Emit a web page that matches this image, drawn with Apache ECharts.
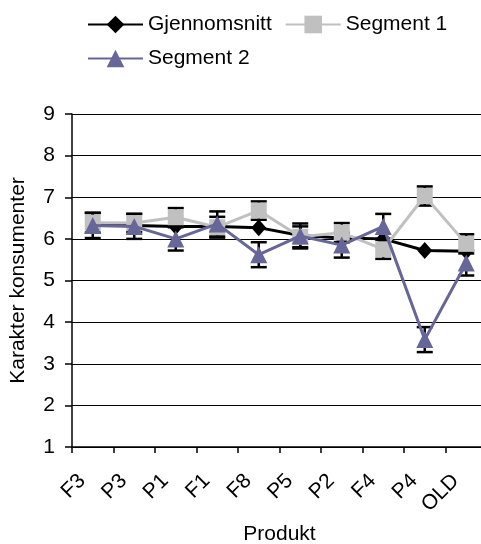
<!DOCTYPE html>
<html>
<head>
<meta charset="utf-8">
<script src="https://cdn.jsdelivr.net/npm/echarts@6/dist/echarts.min.js"></script>
<style>
  html, body { margin: 0; padding: 0; background: #fff; }
  #main { width: 481px; height: 544px; }
</style>
</head>
<body>
<div id="main"></div>
<script>
  var produkter = ['F3', 'P3', 'P1', 'F1', 'F8', 'P5', 'P2', 'F4', 'P4', 'OLD']
  var gjennomsnitt = [6.35, 6.32, 6.30, 6.30, 6.27, 6.08, 6.02, 6.00, 5.72, 5.70]
  var segment1 = [6.39, 6.38, 6.52, 6.28, 6.68, 6.05, 6.15, 5.75, 7.03, 5.88]
  var segment1Feil = [0.24, 0.22, 0.22, 0.25, 0.22, 0.25, 0.23, 0.23, 0.23, 0.23]
  var segment2 = [6.32, 6.30, 6.00, 6.36, 5.62, 6.07, 5.85, 6.30, 3.58, 5.42]
  var segment2Feil = [0.30, 0.30, 0.28, 0.30, 0.30, 0.30, 0.30, 0.30, 0.30, 0.30]
  var yTicks = [1, 2, 3, 4, 5, 6, 7, 8, 9]

  var font = 'Liberation Sans, Arial, sans-serif'

  // error bars, drawn with the axis scales
  function feilData(verdier, feil) {
    return verdier.map(function (v, i) { return [i, v, feil[i]] })
  }
  function tegnFeil(params, api) {
    var x = api.value(0), v = api.value(1), e = api.value(2)
    var topp = api.coord([x, v + e])
    var bunn = api.coord([x, v - e])
    var hw = 8
    var stil = { stroke: '#000', lineWidth: 2.5 }
    return {
      type: 'group',
      children: [
        { type: 'line', shape: { x1: topp[0], y1: topp[1], x2: bunn[0], y2: bunn[1] }, style: stil },
        { type: 'line', shape: { x1: topp[0] - hw, y1: topp[1], x2: topp[0] + hw, y2: topp[1] }, style: stil },
        { type: 'line', shape: { x1: bunn[0] - hw, y1: bunn[1], x2: bunn[0] + hw, y2: bunn[1] }, style: stil }
      ]
    }
  }
  function feilSerie(verdier, feil, z) {
    return {
      type: 'custom',
      renderItem: tegnFeil,
      data: feilData(verdier, feil),
      encode: { x: 0, y: 1 },
      z: z,
      silent: true
    }
  }

  var myChart = echarts.init(document.getElementById('main'))
  myChart.setOption({
    animation: false,
    legend: [
      {
        left: 82, top: 9,
        itemWidth: 55, itemHeight: 22, itemGap: 13,
        data: ['Gjennomsnitt', 'Segment 1'],
        textStyle: { fontSize: 21, fontFamily: font, color: '#000' }
      },
      {
        left: 82, top: 43,
        itemWidth: 55, itemHeight: 22,
        data: ['Segment 2'],
        textStyle: { fontSize: 21, fontFamily: font, color: '#000' }
      }
    ],
    grid: { left: 72, top: 114, width: 415, height: 333, containLabel: false, outerBoundsMode: 'none' },
    xAxis: {
      type: 'category',
      data: produkter,
      boundaryGap: true,
      name: 'Produkt',
      nameLocation: 'middle',
      nameGap: 77,
      nameTextStyle: { fontSize: 21, fontFamily: font, color: '#000' },
      axisLine: { lineStyle: { color: '#000', width: 1.5 } },
      axisTick: { show: true, length: 6, lineStyle: { color: '#000', width: 1.5 } },
      axisLabel: { rotate: 45, margin: 20, padding: [0, 15, 0, 0], fontSize: 21, fontFamily: font, color: '#000' }
    },
    yAxis: {
      type: 'value',
      min: yTicks[0],
      max: yTicks[yTicks.length - 1],
      interval: 1,
      name: 'Karakter konsumenter',
      nameLocation: 'middle',
      nameGap: 43,
      nameTextStyle: { fontSize: 21, fontFamily: font, color: '#000' },
      axisLine: { show: true, lineStyle: { color: '#000', width: 1.5 } },
      axisTick: { show: true, length: 7, lineStyle: { color: '#000', width: 1.5 } },
      axisLabel: { margin: 17, fontSize: 21, fontFamily: font, color: '#000' },
      splitLine: { lineStyle: { color: '#000', width: 1.2 } }
    },
    series: [
      feilSerie(segment1, segment1Feil, 2),
      feilSerie(segment2, segment2Feil, 2),
      {
        name: 'Gjennomsnitt', type: 'line', data: gjennomsnitt, z: 3,
        symbol: 'diamond', symbolSize: [15, 17],
        lineStyle: { color: '#000', width: 3 },
        itemStyle: { color: '#000' }
      },
      {
        name: 'Segment 1', type: 'line', data: segment1, z: 4,
        symbol: 'rect', symbolSize: 16,
        lineStyle: { color: '#c0c0c0', width: 3 },
        itemStyle: { color: '#c0c0c0' }
      },
      {
        name: 'Segment 2', type: 'line', data: segment2, z: 5,
        symbol: 'triangle', symbolSize: [17, 17],
        lineStyle: { color: '#666699', width: 3 },
        itemStyle: { color: '#666699' }
      }
    ]
  })
</script>
</body>
</html>
